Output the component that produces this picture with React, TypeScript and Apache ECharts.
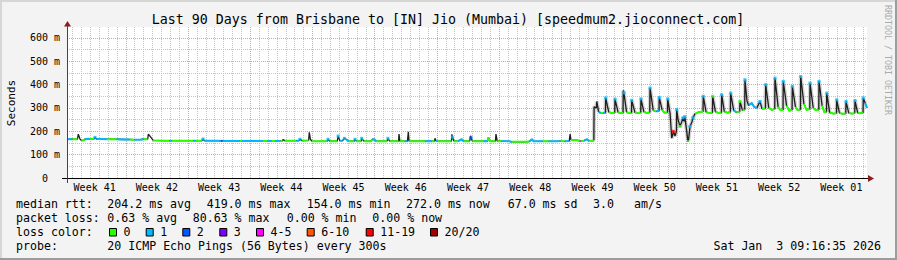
import { useEffect, useRef } from 'react';
import * as echarts from 'echarts';

const TITLE = 'Last 90 Days from Brisbane to [IN] Jio (Mumbai) [speedmum2.jioconnect.com]';
const Y_NAME = 'Seconds';
const WATERMARK = 'RRDTOOL / TOBI OETIKER';
const weekLabels = ['Week 41', 'Week 42', 'Week 43', 'Week 44', 'Week 45', 'Week 46', 'Week 47', 'Week 48', 'Week 49', 'Week 50', 'Week 51', 'Week 52', 'Week 01'];
const lossColors = ['#26ff00', '#00b8ff', '#0059ff', '#7e00ff', '#ff00ff', '#ff5500', '#ff0000', '#a10000'];
const lossLabels = ['0', '1', '2', '3', '4-5', '6-10', '11-19', '20/20'];
const medianRtt = ['204.2 ms avg', '419.0 ms max', '154.0 ms min', '272.0 ms now', '67.0 ms sd', '3.0', 'am/s'];
const packetLoss = ['0.63 % avg', '80.63 % max', '0.00 % min', '0.00 % now'];
const PROBE = '20 ICMP Echo Pings (56 Bytes) every 300s';
const STAMP = 'Sat Jan  3 09:16:35 2026';

// time span (days) and offsets of first midnight / first week boundary after start
const SPAN_DAYS = 90;
const FIRST_MIDNIGHT = 0.614;
const FIRST_WEEK = 6.614;
const Y_MAX = 647;
const SMOKE_FROM = 59.2; // smoke haze visible from here on

// [day since start, median rtt ms, loss code]
// code 0..7 = loss bin (coloured line), -1 = smoke only, 10+bin = smoke peak with loss-coloured dot
const rtt: [number, number, number][] = [
  [0.00, 166, 1], [0.55, 166, 1], [0.60, 166, 0], [1.18, 166, 0], [1.27, 188, -1], [1.45, 168, -1], [1.60, 161, 0],
  [1.90, 162, 0], [2.00, 166, 1], [2.40, 168, 1], [2.55, 167, 0], [3.05, 168, 0], [3.15, 174, 11], [3.30, 167, 1],
  [4.00, 167, 1], [4.50, 166, 0], [5.20, 166, 0], [5.60, 166, 1], [6.50, 165, 1], [7.00, 165, 0], [7.60, 164, 1],
  [8.30, 165, 1], [8.60, 166, 0], [9.08, 166, 0], [9.15, 188, -1], [9.40, 176, -1], [9.70, 161, 0], [11.0, 160, 0],
  [11.5, 160, 1], [11.8, 160, 0], [13.3, 160, 0], [14.2, 160, 1], [14.5, 160, 0], [15.2, 160, 0], [15.3, 167, 11],
  [15.45, 160, 1], [17.0, 160, 1], [17.3, 159, 2], [17.5, 159, 1], [19.0, 159, 1], [19.4, 159, 0], [19.7, 159, 1],
  [21.7, 159, 1], [22.0, 159, 0], [22.5, 159, 1], [23.0, 159, 0], [23.4, 159, 1], [24.0, 159, 0], [24.25, 159, 0],
  [24.3, 165, -1], [24.5, 160, 0], [25.5, 160, 0], [25.8, 160, 1], [26.1, 160, 0], [26.2, 166, 11], [26.45, 160, 0],
  [27.18, 161, 0], [27.26, 196, -1], [27.38, 166, -1], [27.55, 158, 0], [29.0, 157, 0], [29.3, 158, 0], [29.36, 166, 11],
  [29.55, 158, 0], [30.4, 158, 0], [30.5, 180, 11], [30.7, 160, 1], [31.0, 160, 0], [31.2, 170, 11], [31.4, 166, 1],
  [31.65, 158, 0], [32.3, 158, 0], [32.4, 166, 11], [32.55, 158, 0], [33.1, 158, 0], [33.15, 170, 11], [33.4, 158, 0],
  [34.2, 158, 0], [34.35, 166, 1], [34.6, 165, 1], [34.75, 158, 0], [36.0, 158, 0], [36.1, 170, 11], [36.3, 158, 0],
  [37.3, 158, 0], [37.35, 188, -1], [37.45, 158, 0], [38.0, 158, 1], [38.3, 158, 1], [38.4, 198, -1], [38.48, 158, 0],
  [40.0, 158, 0], [40.3, 158, 1], [40.7, 158, 1], [41.0, 158, 0], [41.35, 158, 0], [41.4, 170, -1], [41.5, 160, 1],
  [41.65, 158, 0], [43.25, 158, 0], [43.3, 187, -1], [43.35, 175, 11], [43.55, 158, 0], [44.0, 158, 1], [44.4, 166, 1],
  [44.6, 158, 0], [45.3, 158, 0], [45.4, 181, -1], [45.45, 172, 12], [45.6, 158, 0], [46.5, 158, 0], [46.9, 158, 1],
  [47.3, 158, 0], [47.4, 174, 0], [47.6, 158, 0], [48.2, 158, 0], [48.26, 188, -1], [48.4, 158, 0], [48.9, 158, 1],
  [49.8, 157, 1], [50.0, 155, 0], [51.5, 155, 0], [52.0, 156, 1], [52.3, 166, 1], [52.5, 157, 1], [53.5, 157, 0],
  [54.2, 157, 1], [55.0, 157, 1], [55.5, 158, 0], [56.0, 157, 1], [56.5, 158, 1], [56.6, 188, -1], [56.7, 163, 0],
  [57.3, 162, 0], [57.6, 160, 0], [57.7, 157, 4], [57.8, 158, 0], [58.2, 160, 1], [58.5, 166, 1], [58.7, 160, 0],
  [59.20, 160, 0], [59.27, 162, 0], [59.30, 305, -1], [59.55, 300, 1], [59.60, 328, -1], [59.80, 285, 1], [60.0, 279, 0],
  [60.3, 278, 1], [60.57, 279, 0], [60.60, 343, 11], [60.95, 282, 0], [61.3, 278, 0], [61.62, 279, 0], [61.65, 338, 11],
  [62.0, 281, 0], [62.3, 278, 0], [62.55, 280, 0], [62.58, 375, -1], [62.65, 365, 11], [62.95, 283, 0], [63.2, 278, 0],
  [63.50, 279, 0], [63.53, 333, 11], [63.9, 280, 0], [64.3, 279, 0], [64.54, 280, 0], [64.57, 339, 11], [64.9, 283, 0],
  [65.2, 279, 0], [65.56, 281, 0], [65.59, 386, 11], [65.95, 290, 0], [66.3, 285, 1], [66.6, 288, 0], [66.63, 345, 11],
  [66.95, 292, 0], [67.2, 280, 0], [67.55, 281, 0], [67.58, 339, 11], [67.85, 275, -1], [68.03, 171, 0], [68.15, 185, -1],
  [68.21, 200, 16], [68.4, 180, -1], [68.56, 200, -1], [68.59, 293, 11], [68.75, 250, -1], [68.96, 221, 10], [69.15, 240, -1],
  [69.3, 258, 11], [69.42, 243, -1], [69.5, 263, 11], [69.72, 200, -1], [69.85, 157, 0], [69.92, 162, 0], [70.09, 221, 11],
  [70.3, 240, -1], [70.42, 258, 11], [70.65, 275, 0], [70.9, 280, 0], [71.21, 283, 0], [71.55, 285, 0], [71.58, 350, 11],
  [71.9, 282, 0], [72.3, 278, 0], [72.61, 280, 0], [72.64, 350, 10], [72.95, 283, 0], [73.3, 279, 0], [73.62, 280, 0],
  [73.65, 357, 11], [73.95, 284, 0], [74.3, 280, 0], [74.63, 282, 0], [74.66, 364, 11], [75.0, 290, 1], [75.3, 282, 0],
  [75.68, 284, 0], [75.71, 328, 10], [76.0, 290, 0], [76.24, 292, 0], [76.27, 421, 11], [76.5, 330, -1], [76.7, 310, 1],
  [77.02, 322, 1], [77.3, 305, 1], [77.6, 300, 0], [77.96, 328, 11], [78.2, 296, 0], [78.57, 298, 0], [78.6, 400, 11],
  [78.95, 300, 0], [79.3, 292, 0], [79.62, 295, 0], [79.65, 428, 11], [80.0, 305, 0], [80.3, 290, 0], [80.55, 292, 0],
  [80.58, 414, 11], [80.95, 310, 0], [81.25, 288, 0], [81.57, 292, 0], [81.6, 393, 11], [81.95, 305, 0], [82.2, 290, 0],
  [82.51, 293, 0], [82.54, 435, 11], [82.9, 318, 0], [83.2, 292, 0], [83.56, 295, 0], [83.59, 407, 11], [83.95, 300, 0],
  [84.25, 290, 0], [84.57, 292, 0], [84.6, 414, 11], [84.95, 310, 0], [85.2, 282, 0], [85.44, 283, 0], [85.47, 364, 11],
  [85.8, 280, 0], [86.2, 276, 0], [86.56, 277, 0], [86.59, 335, 11], [86.9, 278, 0], [87.3, 275, 0], [87.61, 276, 0],
  [87.64, 328, 11], [87.95, 278, 0], [88.3, 276, 0], [88.62, 277, 0], [88.65, 332, 11], [88.95, 279, 0], [89.25, 277, 0],
  [89.55, 280, 0], [89.58, 343, 11], [89.8, 320, 1], [90.0, 300, 0],
];

const MONO = '"DejaVu Sans Mono", monospace';
const GRID_GREY = '#c4c4c4';
const GRID_RED = '#eb9a9a';

// grid line / label positions (days since start)
const dayLines: number[] = [];
for (let d = FIRST_MIDNIGHT; d < SPAN_DAYS; d += 1) dayLines.push(+d.toFixed(3));
const weekLines: number[] = [];
for (let d = FIRST_WEEK; d < SPAN_DAYS; d += 7) weekLines.push(+d.toFixed(3));
const weekCenters: number[] = weekLabels.map((_, i) => +(FIRST_WEEK - 3.5 + 7 * i).toFixed(3));

const isBase = (c: number) => c >= 0 && c < 10;

function segmentData(bin: number) {
  const out: any[] = [];
  let open = false;
  for (let i = 0; i < rtt.length - 1; i++) {
    const [t0, v0, c0] = rtt[i];
    const [t1, v1, c1] = rtt[i + 1];
    const ok = c0 === bin && isBase(c1);
    if (ok) {
      if (!open) out.push([t0, v0]);
      out.push([t1, v1]);
      open = true;
    } else if (open) {
      out.push([t0, '-']);
      open = false;
    }
  }
  return out;
}

// segments of the smoke that belong to peaks (for the grey haze)
function hazeData() {
  const out: any[] = [];
  let open = false;
  for (let i = 0; i < rtt.length - 1; i++) {
    const [t0, v0, c0] = rtt[i];
    const [t1, v1, c1] = rtt[i + 1];
    const ok = t0 >= SMOKE_FROM && (!isBase(c0) || !isBase(c1));
    if (ok) {
      if (!open) out.push([t0, v0]);
      out.push([t1, v1]);
      open = true;
    } else if (open) {
      out.push([t0, '-']);
      open = false;
    }
  }
  return out;
}

function buildOption() {
  const series: any[] = [];
  series.push({
    type: 'line', name: 'haze', xAxisIndex: 0, yAxisIndex: 0, showSymbol: false, silent: true,
    connectNulls: false, data: hazeData(),
    lineStyle: { color: 'rgba(70,70,70,0.22)', width: 4 }, z: 1,
  });
  series.push({
    type: 'line', name: 'smoke', xAxisIndex: 0, yAxisIndex: 0, showSymbol: false, silent: true,
    data: rtt.map((p) => [p[0], p[1]]),
    lineStyle: { color: '#1e1e1e', width: 1.3 }, z: 2,
  });
  lossColors.forEach((col, bin) => {
    const data = segmentData(bin);
    if (data.length) {
      series.push({
        type: 'line', name: 'loss' + bin, xAxisIndex: 0, yAxisIndex: 0, showSymbol: false, silent: true,
        connectNulls: false, data, lineStyle: { color: col, width: 2 }, z: 3,
      });
    }
    const dots = rtt.filter((p) => p[2] === 10 + bin).map((p) => [p[0], p[1]]);
    if (dots.length) {
      series.push({
        type: 'scatter', name: 'dot' + bin, xAxisIndex: 0, yAxisIndex: 0, silent: true,
        symbol: 'rect', symbolSize: 3, data: dots, itemStyle: { color: col }, z: 4,
      });
    }
  });

  const hidden = { show: false };
  const dotted = (color: string) => ({ show: true, showMinLine: false, showMaxLine: false, lineStyle: { color, width: 1, type: [1, 1] } });

  const graphic: any[] = [];
  // frame
  graphic.push({ type: 'rect', shape: { x: 0, y: 0, width: 897, height: 2 }, style: { fill: '#d6d6d6' }, silent: true });
  graphic.push({ type: 'rect', shape: { x: 0, y: 0, width: 2, height: 260 }, style: { fill: '#d6d6d6' }, silent: true });
  graphic.push({ type: 'rect', shape: { x: 895, y: 0, width: 2, height: 260 }, style: { fill: '#9c9c9c' }, silent: true });
  graphic.push({ type: 'rect', shape: { x: 0, y: 258, width: 897, height: 2 }, style: { fill: '#9c9c9c' }, silent: true });
  // axes
  graphic.push({ type: 'line', shape: { x1: 62, y1: 178.5, x2: 869, y2: 178.5 }, style: { stroke: '#000', lineWidth: 1 }, silent: true, z: 10 });
  graphic.push({ type: 'line', shape: { x1: 67.5, y1: 183, x2: 67.5, y2: 25 }, style: { stroke: '#444', lineWidth: 1 }, silent: true, z: 10 });
  graphic.push({ type: 'polygon', shape: { points: [[64, 26.5], [71, 26.5], [67.5, 21]] }, style: { fill: '#8e1c1c' }, silent: true, z: 10 });
  graphic.push({ type: 'polygon', shape: { points: [[868, 175], [868, 182], [874, 178.5]] }, style: { fill: '#8e1c1c' }, silent: true, z: 10 });
  // texts
  graphic.push({ type: 'text', x: 448, y: 19, style: { text: TITLE, font: `13.3px ${MONO}`, fill: '#000', textAlign: 'center', textVerticalAlign: 'middle' }, silent: true });
  graphic.push({ type: 'text', x: 11, y: 103, rotation: Math.PI / 2, style: { text: Y_NAME, font: `11px ${MONO}`, fill: '#000', textAlign: 'center', textVerticalAlign: 'middle' }, silent: true });
  graphic.push({ type: 'text', x: 888, y: 60, rotation: -Math.PI / 2, style: { text: WATERMARK, font: `8.3px ${MONO}`, fill: '#ababab', textAlign: 'center', textVerticalAlign: 'middle' }, silent: true });

  const legendFont = `11.6px ${MONO}`;
  const txt = (text: string, x: number, y: number, align = 'left') => ({
    type: 'text', x, y, silent: true,
    style: { text, font: legendFont, fill: '#000', textAlign: align, textVerticalAlign: 'middle' },
  });
  graphic.push(txt('median rtt:', 16, 204));
  const rttX = [107.3, 206.7, 306.7, 406, 507.7, 593, 634];
  medianRtt.forEach((s, i) => graphic.push(txt(s, rttX[i], 204)));
  graphic.push(txt('packet loss:', 16, 218));
  const lossX = [107.3, 192.7, 286.7, 372.3];
  packetLoss.forEach((s, i) => graphic.push(txt(s, lossX[i], 218)));
  graphic.push(txt('loss color:', 16, 232));
  const boxX = [109, 145.7, 182.3, 219.3, 256, 306.7, 365.7, 430];
  lossLabels.forEach((s, i) => {
    graphic.push({ type: 'rect', shape: { x: boxX[i] + 0.5, y: 228.5, width: 7, height: 7.5 }, style: { fill: lossColors[i], stroke: '#000', lineWidth: 1 }, silent: true });
    graphic.push(txt(s, boxX[i] + 14.5, 232));
  });
  graphic.push(txt('probe:', 16, 246));
  graphic.push(txt(PROBE, 107.3, 246));
  graphic.push(txt(STAMP, 881, 246, 'right'));

  const gridAxis = (values: number[], color: string) => ({
    type: 'value', min: 0, max: SPAN_DAYS, position: 'bottom', axisLine: hidden,
    axisTick: { show: false, customValues: values },
    axisLabel: { show: false, customValues: values },
    splitLine: { show: true, lineStyle: { color, width: 1, type: [1, 1] } },
  });

  return {
    animation: false,
    backgroundColor: '#f3f3f3',
    grid: { left: 67, top: 27, width: 800, height: 151, show: true, backgroundColor: '#ffffff', borderWidth: 0, containLabel: false },
    xAxis: [
      { type: 'value', min: 0, max: SPAN_DAYS, position: 'bottom', axisLine: hidden, axisTick: hidden, axisLabel: hidden, splitLine: hidden },
      gridAxis(dayLines, GRID_GREY),
      gridAxis(weekLines, GRID_RED),
      {
        type: 'value', min: 0, max: SPAN_DAYS, position: 'bottom',
        axisLine: hidden, axisTick: { show: false, customValues: weekCenters }, splitLine: hidden,
        axisLabel: {
          show: true, margin: 4, customValues: weekCenters, color: '#000', fontFamily: MONO, fontSize: 10,
          formatter: (v: number) => weekLabels[Math.round((v - weekCenters[0]) / 7)] ?? '',
        },
      },
    ],
    yAxis: [
      { type: 'value', min: 0, max: Y_MAX, interval: 50, position: 'left', axisLine: hidden, axisTick: hidden, axisLabel: hidden, splitLine: dotted(GRID_GREY) },
      {
        type: 'value', min: 0, max: Y_MAX, interval: 100, position: 'left', axisLine: hidden, axisTick: hidden,
        splitLine: dotted(GRID_RED),
        axisLabel: {
          show: true, margin: 7, showMaxLabel: false, color: '#000', fontFamily: MONO, fontSize: 10,
          formatter: (v: number) => (v === 0 ? '{z|0}' : `${v} m`),
          rich: { z: { padding: [0, 12, 0, 0], fontFamily: MONO, fontSize: 10, color: '#000' } },
        },
      },
    ],
    series,
    graphic,
  };
}

export default function App() {
  const ref = useRef<HTMLDivElement>(null);
  useEffect(() => {
    document.body.style.margin = '0';
    if (!ref.current) return;
    const chart = echarts.init(ref.current, undefined, { renderer: 'svg' });
    chart.setOption(buildOption() as any);
    return () => chart.dispose();
  }, []);
  return <div ref={ref} style={{ width: 897, height: 260 }} />;
}
